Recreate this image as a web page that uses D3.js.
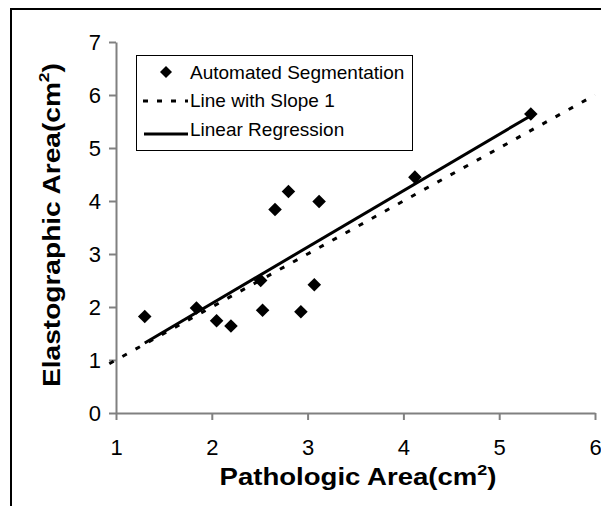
<!DOCTYPE html>
<html><head><meta charset="utf-8">
<script src="https://cdn.jsdelivr.net/npm/d3@7/dist/d3.min.js"></script>
<style>
body{margin:0;background:#fff;}
svg{display:block;font-family:Arial,"Liberation Sans",sans-serif;}
</style></head>
<body>
<script>
// Data
const pathologic = [1.30, 1.84, 2.05, 2.20, 2.51, 2.53, 2.66, 2.80, 2.93, 3.07, 3.12, 4.12, 5.33];
const elastographic = [1.82, 1.98, 1.74, 1.64, 2.50, 1.94, 3.84, 4.18, 1.91, 2.42, 3.99, 4.45, 5.64];
const slopeOneX = [0.93, 6];
const slopeOneY = [0.93, 6];
const regressionX = [1.30, 5.33];
const regressionY = [1.32, 5.61];
const xTicks = [1, 2, 3, 4, 5, 6];
const yTicks = [0, 1, 2, 3, 4, 5, 6, 7];
const legendLabels = ["Automated Segmentation", "Line with Slope 1", "Linear Regression"];

const W = 601, H = 506;
const svg = d3.select("body").append("svg").attr("width", W).attr("height", H);

const x = d3.scaleLinear().domain([1, 6]).range([116, 595]);
const y = d3.scaleLinear().domain([0, 7]).range([413, 42]);

// outer frame (cropped)
svg.append("path").attr("d", "M11,506V9H601").attr("fill", "none").attr("stroke", "#000").attr("stroke-width", 2);

const axisColor = "#808080";
const gx = svg.append("g").attr("transform", `translate(0,${y(0)})`)
  .call(d3.axisBottom(x).tickValues(xTicks).tickSize(7).tickSizeOuter(0).tickPadding(19).tickFormat(d3.format("d")));
const gy = svg.append("g").attr("transform", `translate(${x(1)},0)`)
  .call(d3.axisLeft(y).tickValues(yTicks).tickSize(7).tickSizeOuter(0).tickPadding(8).tickFormat(d3.format("d")));
[gx, gy].forEach(g => {
  g.selectAll("path,line").attr("stroke", axisColor).attr("stroke-width", 2);
  g.selectAll("text").attr("font-size", 22).attr("fill", "#000").attr("font-family", "Arial, 'Liberation Sans', sans-serif");
});

// slope-1 line
const line = d3.line().x(d => x(d[0])).y(d => y(d[1]));
svg.append("path").datum(slopeOneX.map((v, i) => [v, slopeOneY[i]]))
  .attr("d", line).attr("fill", "none").attr("stroke", "#000").attr("stroke-width", 3)
  .attr("stroke-dasharray", "5,10");
// regression line
svg.append("path").datum(regressionX.map((v, i) => [v, regressionY[i]]))
  .attr("d", line).attr("fill", "none").attr("stroke", "#000").attr("stroke-width", 3);

// points
const diamond = d3.symbol().type(d3.symbolSquare).size(92);
svg.append("g").selectAll("path").data(pathologic.map((v, i) => [v, elastographic[i]]))
  .join("path").attr("d", diamond)
  .attr("transform", d => `translate(${x(d[0])},${y(d[1])}) rotate(45)`)
  .attr("fill", "#000");

// legend
const lg = svg.append("g");
lg.append("rect").attr("x", 136.5).attr("y", 55.5).attr("width", 276).attr("height", 95)
  .attr("fill", "#fff").attr("stroke", "#000").attr("stroke-width", 1);
const rowsBase = [79, 107, 136];
const rowsSym = [72, 101, 134];
lg.append("path").attr("d", d3.symbol().type(d3.symbolSquare).size(72)())
  .attr("transform", `translate(166,${rowsSym[0]}) rotate(45)`).attr("fill", "#000");
lg.append("line").attr("x1", 143).attr("x2", 188).attr("y1", rowsSym[1]).attr("y2", rowsSym[1])
  .attr("stroke", "#000").attr("stroke-width", 3).attr("stroke-dasharray", "5,9");
lg.append("line").attr("x1", 144).attr("x2", 188).attr("y1", rowsSym[2]).attr("y2", rowsSym[2])
  .attr("stroke", "#000").attr("stroke-width", 3);
legendLabels.forEach((t, i) => {
  lg.append("text").attr("x", 190).attr("y", rowsBase[i]).attr("font-size", 19).text(t);
});

// axis titles
const xt = svg.append("text").attr("x", 358).attr("y", 485).attr("text-anchor", "middle")
  .attr("font-size", 23).attr("font-weight", "bold")
  .attr("textLength", 277).attr("lengthAdjust", "spacingAndGlyphs");
xt.append("tspan").text("Pathologic Area(cm");
xt.append("tspan").attr("font-size", 15).attr("dy", -10).text("2");
xt.append("tspan").attr("dy", 10).text(")");

const yt = svg.append("text").attr("transform", "translate(60,225) rotate(-90)").attr("text-anchor", "middle")
  .attr("font-size", 24).attr("font-weight", "bold")
  .attr("textLength", 324).attr("lengthAdjust", "spacingAndGlyphs");
yt.append("tspan").text("Elastographic Area(cm");
yt.append("tspan").attr("font-size", 15).attr("dy", -11).text("2");
yt.append("tspan").attr("dy", 11).text(")");
</script>
</body></html>
